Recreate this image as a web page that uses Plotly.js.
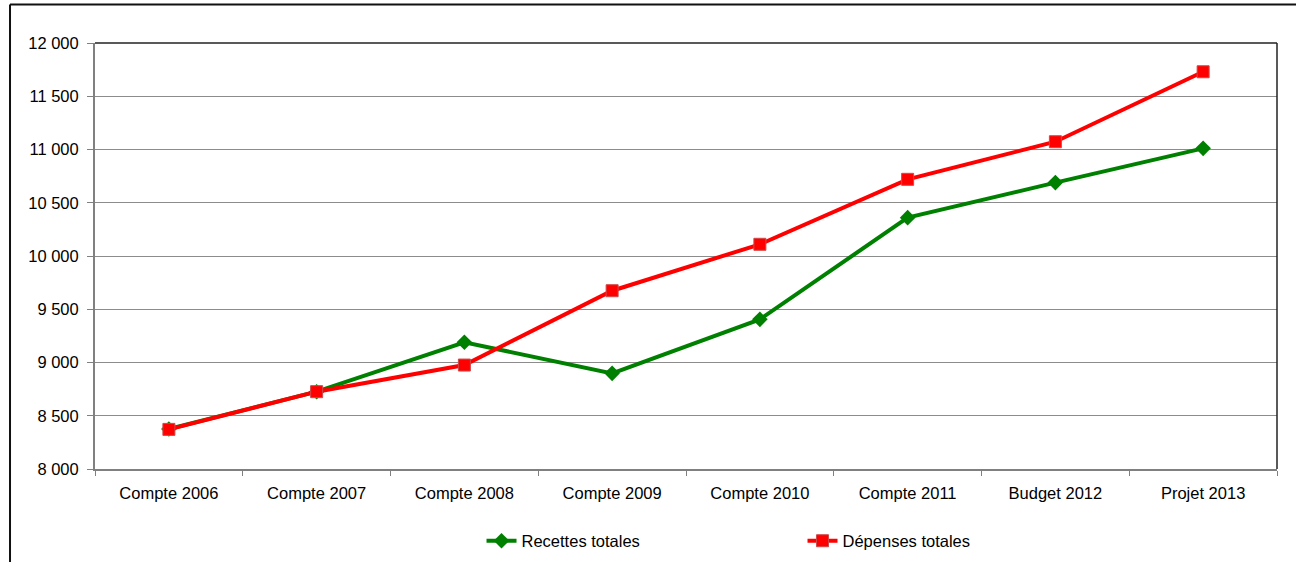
<!DOCTYPE html>
<html>
<head>
<meta charset="utf-8">
<script src="https://cdn.plot.ly/plotly-3.0.1.min.js"></script>
<style>html,body{margin:0;padding:0;background:#fff;}#chart{width:1296px;height:562px;}</style>
</head>
<body>
<div id="chart"></div>
<script>
const categories = ["Compte 2006", "Compte 2007", "Compte 2008", "Compte 2009", "Compte 2010", "Compte 2011", "Budget 2012", "Projet 2013"];
const recettesTotales = [8375, 8726, 9190, 8898, 9405, 10360, 10689, 11011];
const depensesTotales = [8372, 8726, 8976, 9674, 10110, 10720, 11073, 11730];
const seriesNames = ["Recettes totales", "Dépenses totales"];
const yTicks = [8000, 8500, 9000, 9500, 10000, 10500, 11000, 11500, 12000];

const font = {family: "Liberation Sans, Arial, sans-serif", size: 16.5, color: "#000"};

const traces = [
  {
    x: categories, y: recettesTotales, name: seriesNames[0], type: "scatter", mode: "lines+markers",
    line: {color: "#008000", width: 4},
    marker: {symbol: "diamond", size: 12, color: "#008000"}
  },
  {
    x: categories, y: depensesTotales, name: seriesNames[1], type: "scatter", mode: "lines+markers",
    line: {color: "#ff0000", width: 4},
    marker: {symbol: "square", size: 12, color: "#ff0000", line: {color: "#d04848", width: 1}}
  }
];

const layout = {
  width: 1296, height: 562,
  margin: {l: 95, r: 19, t: 43, b: 93, autoexpand: false},
  paper_bgcolor: "#fff", plot_bgcolor: "#fff",
  font: font,
  separators: ", ",
  showlegend: true,
  legend: {
    orientation: "h", x: 0.327, xanchor: "left", y: -0.169, yanchor: "middle",
    entrywidth: 276, entrywidthmode: "pixels",
    font: {family: font.family, size: 16.5, color: "#000"}, itemwidth: 30
  },
  xaxis: {
    type: "category", range: [-0.5, 7.5], fixedrange: true,
    showline: true, linecolor: "#808080", linewidth: 2,
    showgrid: false, zeroline: false,
    ticks: "outside", tickson: "boundaries", ticklen: 5, tickcolor: "#808080", tickwidth: 1,
    ticklabelstandoff: 8,
    tickfont: font
  },
  yaxis: {
    range: [8000, 12000], tickvals: yTicks, tickformat: ",d", fixedrange: true,
    showline: true, linecolor: "#808080", linewidth: 2,
    showgrid: true, gridcolor: "#8c8c8c", gridwidth: 1, zeroline: false,
    ticks: "outside", ticklen: 6, tickcolor: "#808080", tickwidth: 1,
    ticklabelstandoff: 5,
    tickfont: font
  },
  shapes: [
    {type: "line", xref: "paper", yref: "paper", x0: 0, x1: 1, y0: 1, y1: 1, line: {color: "#222", width: 1.5}},
    {type: "line", xref: "paper", yref: "paper", x0: 1, x1: 1, y0: 0, y1: 1, line: {color: "#222", width: 1.5}},
    {type: "line", xref: "paper", yref: "paper", x0: -0.0719, x1: 1.02, y0: 1.0904, y1: 1.0904, line: {color: "#111", width: 2}},
    {type: "line", xref: "paper", yref: "paper", x0: -0.0719, x1: -0.0719, y0: -0.25, y1: 1.0904, line: {color: "#111", width: 2}}
  ]
};

Plotly.newPlot("chart", traces, layout, {displayModeBar: false, staticPlot: true});
</script>
</body>
</html>
